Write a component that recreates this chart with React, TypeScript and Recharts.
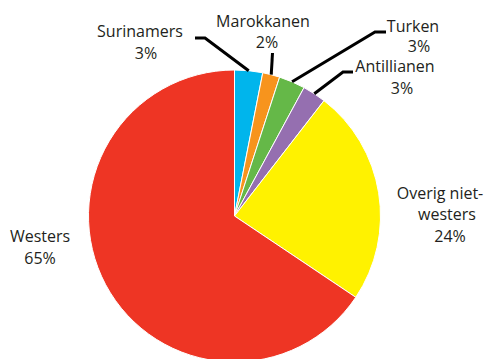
import { PieChart, Pie, Cell } from "recharts";

// categories, slice sizes, printed percentages
const groups = ["Surinamers", "Marokkanen", "Turken", "Antillianen", "Overig niet-westers", "Westers"];
const shares = [3.1, 1.9, 2.9, 2.6, 23.9, 65.6];
const printed = ["3%", "2%", "3%", "3%", "24%", "65%"];
const colors = ["#00b5ec", "#f7941d", "#65b848", "#956fb0", "#fff200", "#ee3524"];

const data = groups.map((name, i) => ({ name, value: shares[i] }));

// label layout: text lines (centre x, baseline y) and optional leader elbow
const layout: { lines: { t: string; x: number; y: number }[]; leader?: number[][] }[] = [
    { lines: [{ t: "Surinamers", x: 140, y: 37 }, { t: "3%", x: 146, y: 59 }], leader: [[195, 38], [205, 38]] },
    { lines: [{ t: "Marokkanen", x: 263, y: 27 }, { t: "2%", x: 267, y: 48 }], leader: [[272.5, 53], [272.5, 53]] },
    { lines: [{ t: "Turken", x: 413, y: 32 }, { t: "3%", x: 419, y: 52 }], leader: [[386, 32], [375, 32]] },
    { lines: [{ t: "Antillianen", x: 395, y: 72 }, { t: "3%", x: 402, y: 94 }], leader: [[353, 72], [343, 72]] },
    { lines: [{ t: "Overig niet-", x: 440, y: 199 }, { t: "westers", x: 447, y: 220 }, { t: "24%", x: 450, y: 242 }] },
    { lines: [{ t: "Westers", x: 40, y: 242 }, { t: "65%", x: 40, y: 264 }] },
];

const RAD = Math.PI / 180;

const renderLabel = (props: any) => {
    const { cx, cy, midAngle, outerRadius, index } = props;
    const item = layout[index];
    const ex = cx + outerRadius * Math.cos(-midAngle * RAD);
    const ey = cy + outerRadius * Math.sin(-midAngle * RAD);
    return (
        <g key={`lbl-${index}`}>
            {item.leader && (
                <polyline
                    points={`${item.leader[0][0]},${item.leader[0][1]} ${item.leader[1][0]},${item.leader[1][1]} ${ex},${ey}`}
                    fill="none"
                    stroke="#000"
                    strokeWidth={3}
                />
            )}
            {item.lines.map((l, k) => (
                <text
                    key={k}
                    x={l.x}
                    y={l.y}
                    textAnchor="middle"
                    fill="#231f20"
                    fontSize={16}
                    fontFamily="'Open Sans', sans-serif"
                >
                    {l.t}
                </text>
            ))}
        </g>
    );
};

export default function App() {
    return (
        <div style={{ position: "absolute", left: 0, top: 0, background: "#fff" }}>
            <PieChart width={486} height={359} margin={{ top: 0, right: 0, bottom: 0, left: 0 }}>
                <Pie
                    data={data}
                    dataKey="value"
                    cx={234.5}
                    cy={216}
                    outerRadius={146}
                    startAngle={90}
                    endAngle={-270}
                    stroke="#fff"
                    strokeWidth={1}
                    label={renderLabel}
                    labelLine={false}
                    isAnimationActive={false}
                >
                    {data.map((d, i) => (
                        <Cell key={d.name} fill={colors[i]} />
                    ))}
                </Pie>
            </PieChart>
        </div>
    );
}
